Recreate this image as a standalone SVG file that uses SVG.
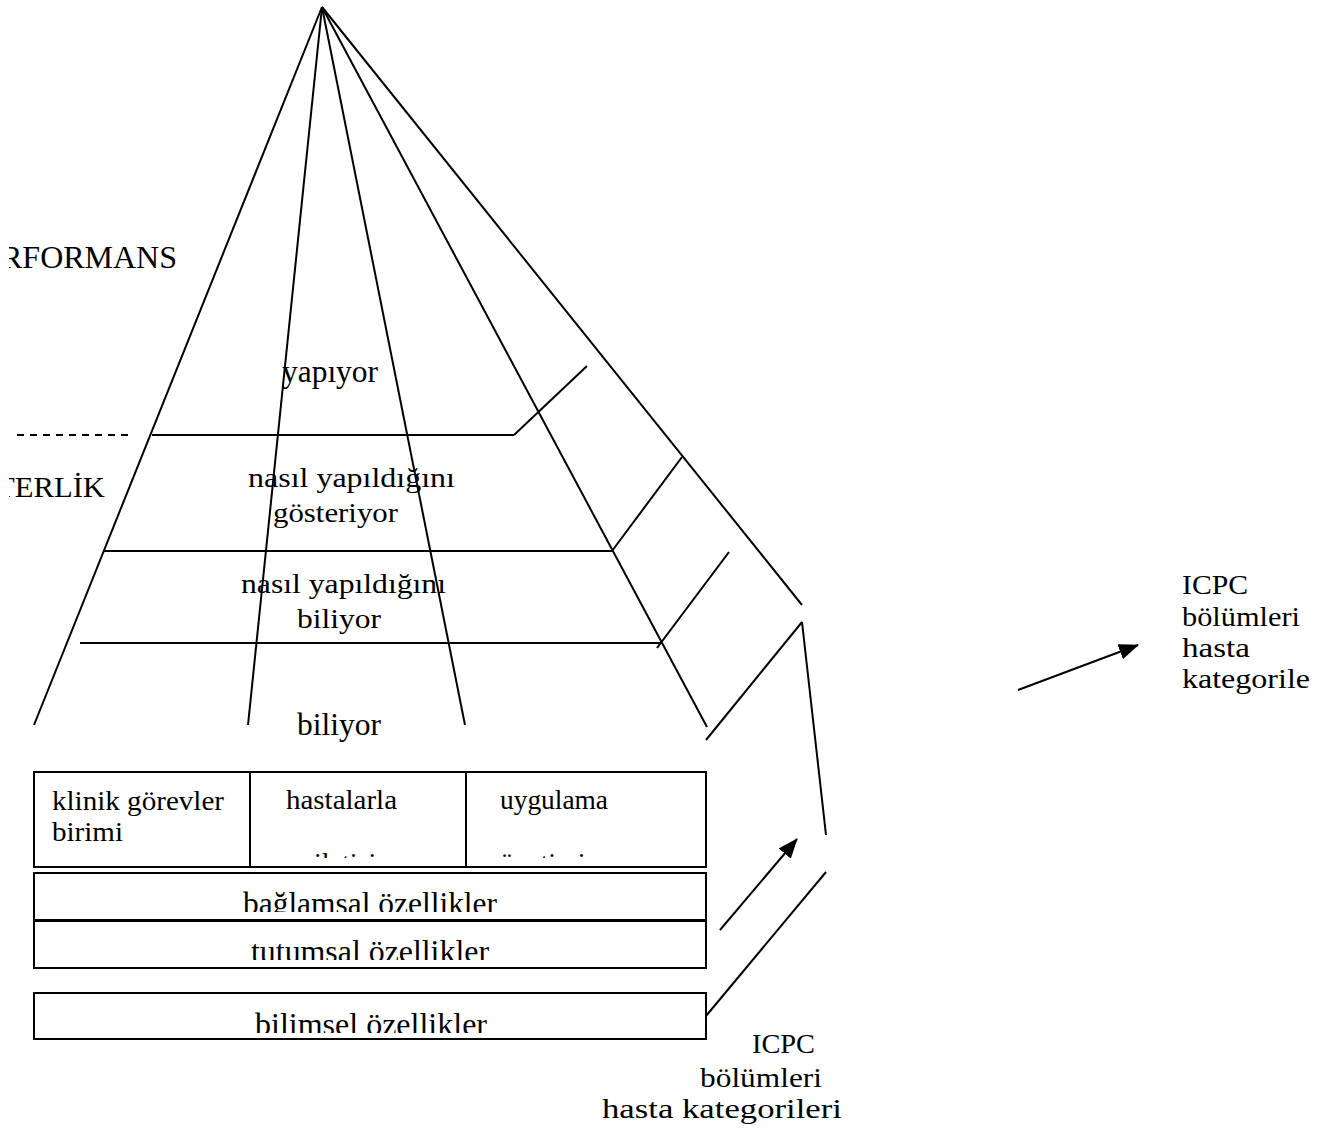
<svg xmlns="http://www.w3.org/2000/svg" width="1321" height="1133" viewBox="0 0 1321 1133">
<style>
.t{font-family:"Liberation Serif","Times New Roman",serif;font-size:31px;fill:#000}
.big{font-size:32px}
.sm{font-size:28px}
.ln{stroke:#000;stroke-width:2;fill:none;stroke-linecap:butt}
.box{stroke:#000;stroke-width:2;fill:#fff}
</style>
<defs>
<marker id="ah" viewBox="0 0 20 16" refX="19" refY="8" markerWidth="20" markerHeight="16" markerUnits="userSpaceOnUse" orient="auto">
<path d="M0,0 L20,8 L0,16 z" fill="#000"/>
</marker>
<clipPath id="cLeft"><rect x="9" y="0" width="300" height="1133"/></clipPath>
<clipPath id="cRow1"><rect x="34" y="772" width="672" height="86"/></clipPath>
<clipPath id="cB2"><rect x="34" y="873" width="672" height="39"/></clipPath>
<clipPath id="cB3"><rect x="34" y="921" width="672" height="39"/></clipPath>
<clipPath id="cB4"><rect x="34" y="993" width="672" height="40"/></clipPath>
</defs>

<g id="connectors">
<line class="ln" x1="322" y1="7" x2="34" y2="725"/>
<line class="ln" x1="322" y1="7" x2="248" y2="725"/>
<line class="ln" x1="322" y1="7" x2="465" y2="725"/>
<line class="ln" x1="322" y1="7" x2="707" y2="727"/>
<line class="ln" x1="322" y1="7" x2="802" y2="605"/>
<line class="ln" x1="152" y1="435" x2="514" y2="435"/>
<line class="ln" x1="514" y1="435" x2="587" y2="366"/>
<line class="ln" x1="104" y1="551" x2="612" y2="551"/>
<line class="ln" x1="612" y1="551" x2="682" y2="457"/>
<line class="ln" x1="80" y1="643" x2="660" y2="643"/>
<line class="ln" x1="657" y1="648" x2="729" y2="552"/>
<line class="ln" x1="17" y1="435" x2="130" y2="435" stroke-dasharray="7,6"/>
<line class="ln" x1="802" y1="622" x2="826" y2="835"/>
<line class="ln" x1="802" y1="622" x2="706" y2="740"/>
<line class="ln" x1="706" y1="1016" x2="826" y2="872"/>
<line class="ln" x1="720" y1="930" x2="797" y2="839" marker-end="url(#ah)"/>
<line class="ln" x1="1018" y1="690" x2="1138" y2="645" marker-end="url(#ah)"/>
</g>

<g id="labels-left" clip-path="url(#cLeft)">
<text class="t" x="1" y="268" style="font-size:32px" textLength="176" lengthAdjust="spacingAndGlyphs">RFORMANS</text>
<text class="t" x="-4" y="497" style="font-size:30px" textLength="109" lengthAdjust="spacingAndGlyphs">TERLİK</text>
</g>

<g id="level-yapiyor"><text class="t big" x="282" y="382" textLength="96" lengthAdjust="spacingAndGlyphs">yapıyor</text></g>
<g id="level-gosteriyor">
<text class="t sm" x="248" y="487" textLength="207" lengthAdjust="spacingAndGlyphs">nasıl yapıldığını</text>
<text class="t sm" x="273" y="522" textLength="125" lengthAdjust="spacingAndGlyphs">gösteriyor</text>
</g>
<g id="level-biliyor2">
<text class="t sm" x="241" y="593" textLength="205" lengthAdjust="spacingAndGlyphs">nasıl yapıldığını</text>
<text class="t sm" x="297" y="628" textLength="84" lengthAdjust="spacingAndGlyphs">biliyor</text>
</g>
<g id="level-biliyor"><text class="t big" x="297" y="735" textLength="84" lengthAdjust="spacingAndGlyphs">biliyor</text></g>

<g id="box-row1">
<rect class="box" x="34" y="772" width="672" height="95"/>
<line class="ln" x1="250" y1="772" x2="250" y2="867"/>
<line class="ln" x1="466" y1="772" x2="466" y2="867"/>
<text class="t sm" x="52" y="810" textLength="172" lengthAdjust="spacingAndGlyphs">klinik görevler</text>
<text class="t sm" x="52" y="841" textLength="71" lengthAdjust="spacingAndGlyphs">birimi</text>
<text class="t sm" x="286" y="809" textLength="111" lengthAdjust="spacingAndGlyphs">hastalarla</text>
<text class="t sm" x="500" y="809" textLength="108" lengthAdjust="spacingAndGlyphs">uygulama</text>
<g clip-path="url(#cRow1)">
<text class="t sm" x="314" y="872">iletişim</text>
<text class="t sm" x="486" y="872">yönetimi</text>
</g>
</g>

<g id="box-baglamsal">
<rect class="box" x="34" y="873" width="672" height="47"/>
<text class="t big" x="243" y="914" textLength="254" lengthAdjust="spacingAndGlyphs" clip-path="url(#cB2)">bağlamsal özellikler</text>
</g>
<g id="box-tutumsal">
<rect class="box" x="34" y="921" width="672" height="47"/>
<text class="t big" x="251" y="962" textLength="238" lengthAdjust="spacingAndGlyphs" clip-path="url(#cB3)">tutumsal özellikler</text>
</g>
<g id="box-bilimsel">
<rect class="box" x="34" y="993" width="672" height="46"/>
<text class="t big" x="255" y="1035" textLength="232" lengthAdjust="spacingAndGlyphs" clip-path="url(#cB4)">bilimsel özellikler</text>
</g>

<g id="label-icpc-right">
<text class="t sm" x="1182" y="594" textLength="66" lengthAdjust="spacingAndGlyphs">ICPC</text>
<text class="t sm" x="1182" y="626" textLength="118" lengthAdjust="spacingAndGlyphs">bölümleri</text>
<text class="t sm" x="1182" y="657" textLength="68" lengthAdjust="spacingAndGlyphs">hasta</text>
<text class="t sm" x="1182" y="688" textLength="128" lengthAdjust="spacingAndGlyphs">kategorile</text>
</g>
<g id="label-icpc-bottom">
<text class="t sm" x="752" y="1053" textLength="63" lengthAdjust="spacingAndGlyphs">ICPC</text>
<text class="t sm" x="700" y="1087" textLength="122" lengthAdjust="spacingAndGlyphs">bölümleri</text>
<text class="t sm" x="602" y="1118" textLength="240" lengthAdjust="spacingAndGlyphs">hasta kategorileri</text>
</g>
</svg>
